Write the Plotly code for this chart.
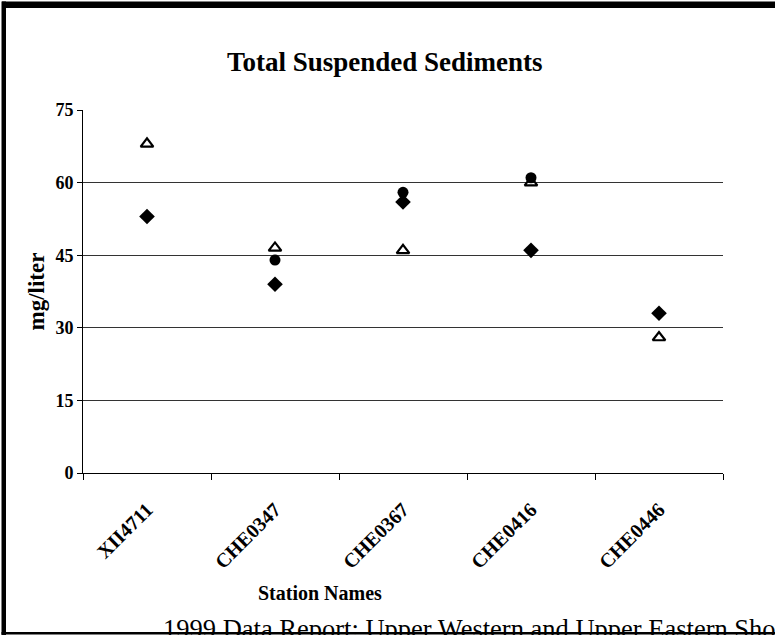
import plotly.graph_objects as go

stations = ["XII4711", "CHE0347", "CHE0367", "CHE0416", "CHE0446"]
diamond_vals = [53, 39, 56, 46, 33]
circle_vals = [None, 44, 58, 61, None]
triangle_vals = [68, 46.5, 46, 60, 28]
y_ticks = [0, 15, 30, 45, 60, 75]

W, H = 775, 635
L, R, T, B = 83, 723, 110, 473

def px(x):
    return (x - L) / (R - L)

def py(y):
    return (B - y) / (B - T)

SERIF = "Liberation Serif, Times New Roman, serif"

fig = go.Figure()
fig.add_trace(go.Scatter(x=stations, y=diamond_vals, mode="markers",
                         marker=dict(symbol="diamond", size=12, color="black"),
                         name="Series 1"))
fig.add_trace(go.Scatter(x=stations, y=triangle_vals, mode="markers",
                         marker=dict(symbol="triangle-up-open", size=11, color="black",
                                     line=dict(width=2.2, color="black")),
                         name="Series 3"))
fig.add_trace(go.Scatter(x=stations, y=circle_vals, mode="markers",
                         marker=dict(symbol="circle", size=11, color="black"),
                         name="Series 2"))

shapes = [
    dict(type="rect", xref="paper", yref="paper", x0=px(2), x1=px(776), y0=py(8), y1=py(1.5),
         fillcolor="black", line=dict(width=0), layer="above"),
    dict(type="rect", xref="paper", yref="paper", x0=px(1.5), x1=px(6), y0=py(636), y1=py(1.5),
         fillcolor="black", line=dict(width=0), layer="above"),
    dict(type="rect", xref="paper", yref="paper", x0=px(1.5), x1=px(776), y0=py(634.5), y1=py(632),
         fillcolor="black", line=dict(width=0), layer="above"),
]

annotations = [
    dict(text="Total Suspended Sediments", xref="paper", yref="paper", x=px(385), y=py(62),
         xanchor="center", yanchor="middle", showarrow=False,
         font=dict(family=SERIF, size=27, color="black", weight="bold")),
    dict(text="Station Names", xref="paper", yref="paper", x=px(320), y=py(593),
         xanchor="center", yanchor="middle", showarrow=False,
         font=dict(family=SERIF, size=20, color="black", weight="bold")),
    dict(text="1999 Data Report: Upper Western and Upper Eastern Shore", xref="paper", yref="paper",
         x=px(161), y=py(612), xanchor="left", yanchor="top", showarrow=False,
         font=dict(family=SERIF, size=26.5, color="black")),
]

fig.update_layout(
    width=W, height=H,
    margin=dict(l=L, r=W - R, t=T, b=H - B, pad=0),
    paper_bgcolor="white", plot_bgcolor="white",
    showlegend=False,
    shapes=shapes,
    annotations=annotations,
    xaxis=dict(type="category", categoryorder="array", categoryarray=stations,
               range=[-0.5, len(stations) - 0.5],
               tickson="boundaries", ticks="outside", ticklen=6, tickcolor="black",
               showline=True, linecolor="black", linewidth=1,
               showgrid=False, tickangle=-45, ticklabelstandoff=16,
               tickfont=dict(family=SERIF, size=20, color="black", weight="bold")),
    yaxis=dict(range=[0, 75], tickvals=y_ticks, ticks="outside", ticklen=5, tickcolor="black",
               showline=True, linecolor="black", linewidth=1,
               showgrid=True, gridcolor="#333333", gridwidth=1, zeroline=False,
               tickfont=dict(family=SERIF, size=18, color="black", weight="bold"),
               title=dict(text="mg/liter", standoff=4,
                          font=dict(family=SERIF, size=23, color="black", weight="bold"))),
)

fig.write_html(
    "out.html",
    config={"displayModeBar": False},
    post_script=(
        "document.body.style.margin='0';"
        "document.body.style.overflow='hidden';"
        "document.documentElement.style.overflow='hidden';"
    ),
)
